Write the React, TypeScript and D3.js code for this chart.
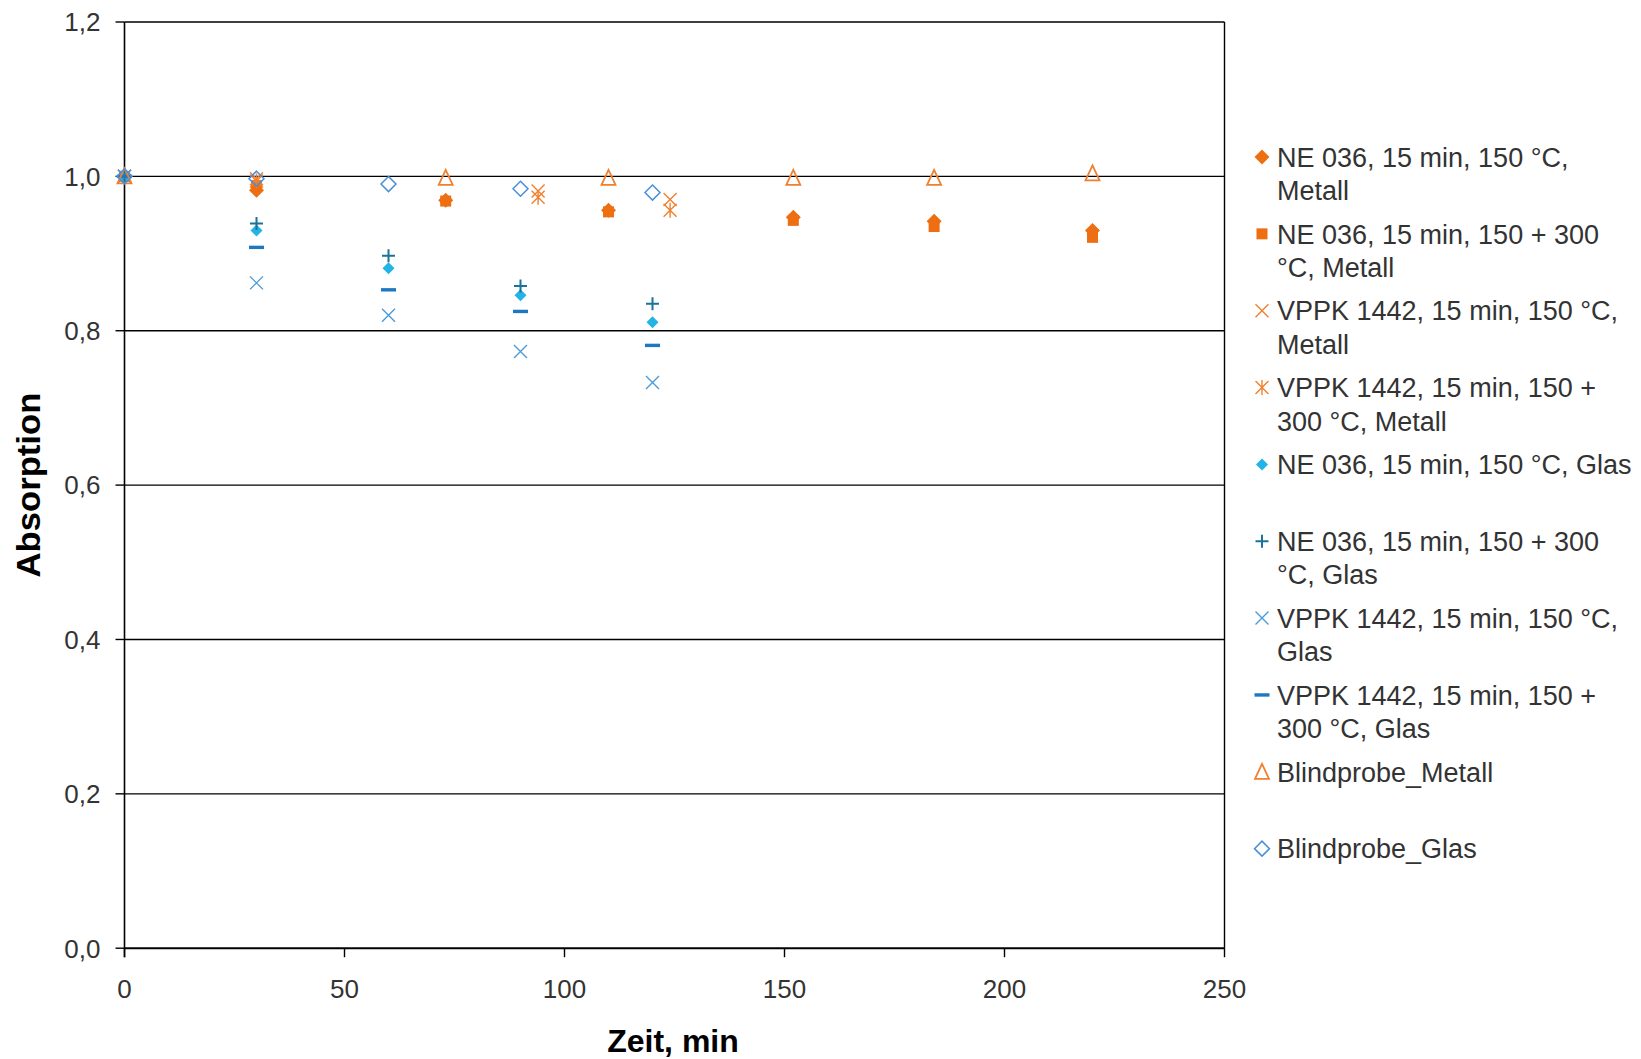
import React from "react";
import * as d3 from "d3";

const xTicks = [0, 50, 100, 150, 200, 250];
const yTicks = [0, 0.2, 0.4, 0.6, 0.8, 1.0, 1.2];

const neMetallX = [0, 30, 73, 110, 152, 184, 220];
const neMetallY = [1.0, 0.982, 0.969, 0.956, 0.947, 0.942, 0.930];
const ne300MetallX = [0, 30, 73, 110, 152, 184, 220];
const ne300MetallY = [1.0, 0.988, 0.968, 0.954, 0.943, 0.935, 0.921];
const vppkMetallX = [0, 30, 94, 124];
const vppkMetallY = [1.0, 0.997, 0.981, 0.970];
const vppk300MetallX = [0, 30, 94, 124];
const vppk300MetallY = [1.0, 0.994, 0.973, 0.956];
const neGlasX = [0, 30, 60, 90, 120];
const neGlasY = [1.0, 0.930, 0.881, 0.846, 0.811];
const ne300GlasX = [0, 30, 60, 90, 120];
const ne300GlasY = [1.0, 0.939, 0.897, 0.858, 0.835];
const vppkGlasX = [0, 30, 60, 90, 120];
const vppkGlasY = [1.0, 0.862, 0.820, 0.773, 0.733];
const vppk300GlasX = [0, 30, 60, 90, 120];
const vppk300GlasY = [1.0, 0.908, 0.853, 0.825, 0.781];
const blindMetallX = [0, 73, 110, 152, 184, 220];
const blindMetallY = [1.0, 0.998, 0.998, 0.998, 0.998, 1.004];
const blindGlasX = [0, 30, 60, 90, 120];
const blindGlasY = [1.0, 0.997, 0.990, 0.984, 0.979];

const legendLabels = [
  ["NE 036, 15 min, 150 °C,", "Metall"],
  ["NE 036, 15 min, 150 + 300", "°C, Metall"],
  ["VPPK 1442, 15 min, 150 °C,", "Metall"],
  ["VPPK 1442, 15 min, 150 +", "300 °C, Metall"],
  ["NE 036, 15 min, 150 °C, Glas"],
  ["NE 036, 15 min, 150 + 300", "°C, Glas"],
  ["VPPK 1442, 15 min, 150 °C,", "Glas"],
  ["VPPK 1442, 15 min, 150 +", "300 °C, Glas"],
  ["Blindprobe_Metall"],
  ["Blindprobe_Glas"],
];

const ORANGE = "#EE6E12";
const ORANGE_L = "#F08030";

type MarkerKind = "diamondFill" | "square" | "xOrange" | "asterisk" | "diamondCyan" | "plus" | "xBlue" | "dash" | "triangle" | "diamondOutline";

const seriesDefs: { x: number[]; y: number[]; kind: MarkerKind }[] = [
  { x: neMetallX, y: neMetallY, kind: "diamondFill" },
  { x: ne300MetallX, y: ne300MetallY, kind: "square" },
  { x: vppkMetallX, y: vppkMetallY, kind: "xOrange" },
  { x: vppk300MetallX, y: vppk300MetallY, kind: "asterisk" },
  { x: neGlasX, y: neGlasY, kind: "diamondCyan" },
  { x: ne300GlasX, y: ne300GlasY, kind: "plus" },
  { x: vppkGlasX, y: vppkGlasY, kind: "xBlue" },
  { x: vppk300GlasX, y: vppk300GlasY, kind: "dash" },
  { x: blindMetallX, y: blindMetallY, kind: "triangle" },
  { x: blindGlasX, y: blindGlasY, kind: "diamondOutline" },
];

function Marker({ kind, cx, cy }: { kind: MarkerKind; cx: number; cy: number }) {
  const t = `translate(${cx},${cy})`;
  switch (kind) {
    case "diamondFill": {
      const r = 7.5;
      return <path transform={t} d={`M0,${-r}L${r},0L0,${r}L${-r},0Z`} fill={ORANGE} />;
    }
    case "square":
      return <rect transform={t} x={-5.5} y={-5.5} width={11} height={11} fill={ORANGE} />;
    case "xOrange": {
      const r = 6.5;
      return <path transform={t} d={`M${-r},${-r}L${r},${r}M${-r},${r}L${r},${-r}`} stroke={ORANGE_L} strokeWidth={1.4} fill="none" />;
    }
    case "asterisk": {
      const r = 6.5;
      return <path transform={t} d={`M${-r},${-r}L${r},${r}M${-r},${r}L${r},${-r}M0,${-r - 1}L0,${r + 1}`} stroke={ORANGE_L} strokeWidth={1.4} fill="none" />;
    }
    case "diamondCyan": {
      const r = 6;
      return <path transform={t} d={`M0,${-r}L${r},0L0,${r}L${-r},0Z`} fill="#22B4E6" />;
    }
    case "plus": {
      const r = 6.5;
      return <path transform={t} d={`M${-r},0L${r},0M0,${-r}L0,${r}`} stroke="#1A7399" strokeWidth={2} fill="none" />;
    }
    case "xBlue": {
      const r = 6.5;
      return <path transform={t} d={`M${-r},${-r}L${r},${r}M${-r},${r}L${r},${-r}`} stroke="#4A9BDA" strokeWidth={1.4} fill="none" />;
    }
    case "dash":
      return <rect transform={t} x={-7.5} y={-1.7} width={15} height={3.4} fill="#1E78C0" />;
    case "triangle": {
      return <path transform={t} d={`M0,-8L7,7L-7,7Z`} stroke={ORANGE_L} strokeWidth={1.8} fill="none" />;
    }
    case "diamondOutline": {
      const r = 7.5;
      return <path transform={t} d={`M0,${-r}L${r},0L0,${r}L${-r},0Z`} stroke="#4A90D9" strokeWidth={1.5} fill="none" />;
    }
  }
  return null;
}

export default function App() {
  const W = 1641, H = 1059;
  const left = 124.5, right = 1224.5, top = 22, bottom = 948.2;
  const x = d3.scaleLinear().domain([0, 250]).range([left, right]);
  const y = d3.scaleLinear().domain([0, 1.2]).range([bottom, top]);
  const fmt = (v: number) => d3.format(".1f")(v).replace(".", ",");
  const font = "'Liberation Sans', Arial, sans-serif";

  const legX = 1262, legTextX = 1277, legY0 = 157, legStep = 76.85, legLine = 33.5;

  return (
    <div style={{ position: "fixed", left: 0, top: 0, width: W, height: H, overflow: "hidden", background: "#fff" }}>
      <svg width={W} height={H} style={{ display: "block", fontFamily: font }}>
        <rect width={W} height={H} fill="#fff" />
        {yTicks.map((v) => (
          <g key={"y" + v}>
            <line x1={left} x2={right} y1={y(v)} y2={y(v)} stroke="#000" strokeWidth={v === 0 ? 2 : 1.4} />
            <line x1={left - 9} x2={left} y1={y(v)} y2={y(v)} stroke="#000" strokeWidth={1.4} />
            <text x={100.5} y={y(v)} dy="0.36em" textAnchor="end" fontSize={26} fill="#333">{fmt(v)}</text>
          </g>
        ))}
        <line x1={left} x2={left} y1={top} y2={bottom + 9} stroke="#000" strokeWidth={1.6} />
        <line x1={right} x2={right} y1={top} y2={bottom} stroke="#000" strokeWidth={1.4} />
        {xTicks.map((v) => (
          <g key={"x" + v}>
            <line x1={x(v)} x2={x(v)} y1={bottom} y2={bottom + 9} stroke="#000" strokeWidth={1.4} />
            <text x={x(v)} y={998} textAnchor="middle" fontSize={26} fill="#333">{v}</text>
          </g>
        ))}
        <text x={673} y={1052} textAnchor="middle" fontSize={32} fontWeight="bold" fill="#000">Zeit, min</text>
        <text transform={`translate(40,${(top + bottom) / 2}) rotate(-90)`} textAnchor="middle" fontSize={33} fontWeight="bold" fill="#000" textLength={185} lengthAdjust="spacingAndGlyphs">Absorption</text>
        {seriesDefs.map((s, si) => (
          <g key={"s" + si}>
            {s.x.map((xv, i) => (
              <Marker key={i} kind={s.kind} cx={x(xv)} cy={y(s.y[i])} />
            ))}
          </g>
        ))}
        {legendLabels.map((lines, i) => {
          const cy = legY0 + i * legStep;
          return (
            <g key={"l" + i}>
              <Marker kind={seriesDefs[i].kind} cx={legX} cy={cy} />
              {lines.map((ln, j) => (
                <text key={j} x={legTextX} y={cy + j * legLine} dy="0.36em" fontSize={27} fill="#333">{ln}</text>
              ))}
            </g>
          );
        })}
      </svg>
    </div>
  );
}
